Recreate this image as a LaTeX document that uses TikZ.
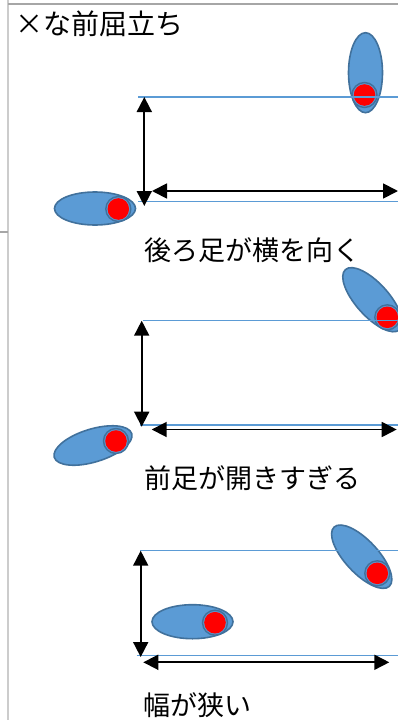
\documentclass[tikz,border=0pt]{standalone}
\usepackage{fontspec}
\setmainfont{Noto Sans CJK JP}
\usetikzlibrary{arrows.meta}
\definecolor{footblue}{HTML}{5B9BD5}
\definecolor{footedge}{HTML}{41719C}
\definecolor{lineblue}{HTML}{5B9BD5}
\tikzset{
  footshape/.style={fill=footblue, draw=footedge, line width=1.6pt},
  ringshape/.style={fill=footblue, draw=footedge, line width=1.4pt},
  dotshape/.style={fill=red},
  guide/.style={draw=lineblue, line width=1.1pt},
  dimarrow/.style={draw=black, line width=1.8pt, {Triangle[width=15pt,length=15pt]}-{Triangle[width=15pt,length=15pt]}},
  label/.style={anchor=west, inner sep=0pt, font=\fontsize{27pt}{30pt}\selectfont},
  frameline/.style={draw=gray!40, line width=2pt}
}
\begin{document}
\begin{tikzpicture}[x=1pt,y=-1pt]
\useasboundingbox (0,0) rectangle (398,720);
\clip (0,0) rectangle (398,720);
% frame
\draw[frameline] (8,0) -- (8,720);
\draw[draw=gray!70, line width=1.2pt] (8,4) -- (398,4);
\draw[draw=gray!70, line width=1.2pt] (0,232) -- (8,232);
% texts
\node[label, font=\fontsize{28pt}{30pt}\selectfont] (title) at (15,23.5) {×な前屈立ち};
\node[label] (lab1) at (144,250) {後ろ足が横を向く};
\node[label] (lab2) at (144,478.5) {前足が開きすぎる};
\node[label] (lab3) at (143,705) {幅が狭い};
% ===== section 1 =====
\path[footshape] (95,208.5) ellipse [x radius=40.5pt, y radius=16.5pt];
\path[ringshape] (118.3,209) circle [radius=12.5pt];
\path[dotshape] (118.3,209) circle [radius=10.8pt];
\path[footshape] (365.5,72.7) ellipse [x radius=17pt, y radius=40pt];
\path[ringshape] (364.5,95) circle [radius=12.5pt];
\path[dotshape] (364.5,95) circle [radius=10.8pt];
\coordinate (a1t) at (138,97);   \coordinate (a1tr) at (398,97);
\coordinate (a1b) at (138,201.7); \coordinate (a1br) at (398,201.7);
\draw[guide] (a1t) -- (a1tr);
\draw[guide] (a1b) -- (a1br);
\coordinate (v1s) at (144.3,97); \coordinate (v1e) at (144.3,206);
\coordinate (h1s) at (152,191);  \coordinate (h1e) at (398,191);
\draw[dimarrow] (v1s) -- (v1e);
\draw[dimarrow] (h1s) -- (h1e);
% ===== section 2 =====
\path[footshape, rotate around={17:(93,445.5)}] (93,445.5) ellipse [x radius=40.5pt, y radius=16.5pt];
\path[ringshape] (116,441) circle [radius=12.5pt];
\path[dotshape] (116,441) circle [radius=10.8pt];
\path[footshape, rotate around={-48:(372.5,299.7)}] (372.5,299.7) ellipse [x radius=40.5pt, y radius=16.5pt];
\path[ringshape] (387.3,317.3) circle [radius=12.5pt];
\path[dotshape] (387.3,317.3) circle [radius=10.8pt];
\coordinate (a2t) at (142.7,320.7); \coordinate (a2tr) at (398,320.7);
\coordinate (a2b) at (140,425);     \coordinate (a2br) at (398,425);
\draw[guide] (a2t) -- (a2tr);
\draw[guide] (a2b) -- (a2br);
\coordinate (v2s) at (141.7,320.7); \coordinate (v2e) at (141.7,426.7);
\coordinate (h2s) at (151.7,429.5); \coordinate (h2e) at (396.7,429.5);
\draw[dimarrow] (v2s) -- (v2e);
\draw[dimarrow] (h2s) -- (h2e);
% ===== section 3 =====
\path[footshape] (192.5,621.7) ellipse [x radius=40.5pt, y radius=17pt];
\path[ringshape] (215,622.7) circle [radius=12.5pt];
\path[dotshape] (215,622.7) circle [radius=10.8pt];
\path[footshape, rotate around={-47:(361.7,556.7)}] (361.7,556.7) ellipse [x radius=40.5pt, y radius=16.5pt];
\path[ringshape] (377.3,573.3) circle [radius=12.5pt];
\path[dotshape] (377.3,573.3) circle [radius=10.8pt];
\coordinate (a3t) at (140,550.7);   \coordinate (a3tr) at (398,550.7);
\coordinate (a3b) at (136.7,655.7); \coordinate (a3br) at (398,655.7);
\draw[guide] (a3t) -- (a3tr);
\draw[guide] (a3b) -- (a3br);
\coordinate (v3s) at (140.7,550.7); \coordinate (v3e) at (140.7,657);
\coordinate (h3s) at (143.3,662.3); \coordinate (h3e) at (389.3,662.3);
\draw[dimarrow] (v3s) -- (v3e);
\draw[dimarrow] (h3s) -- (h3e);
\end{tikzpicture}
\end{document}
